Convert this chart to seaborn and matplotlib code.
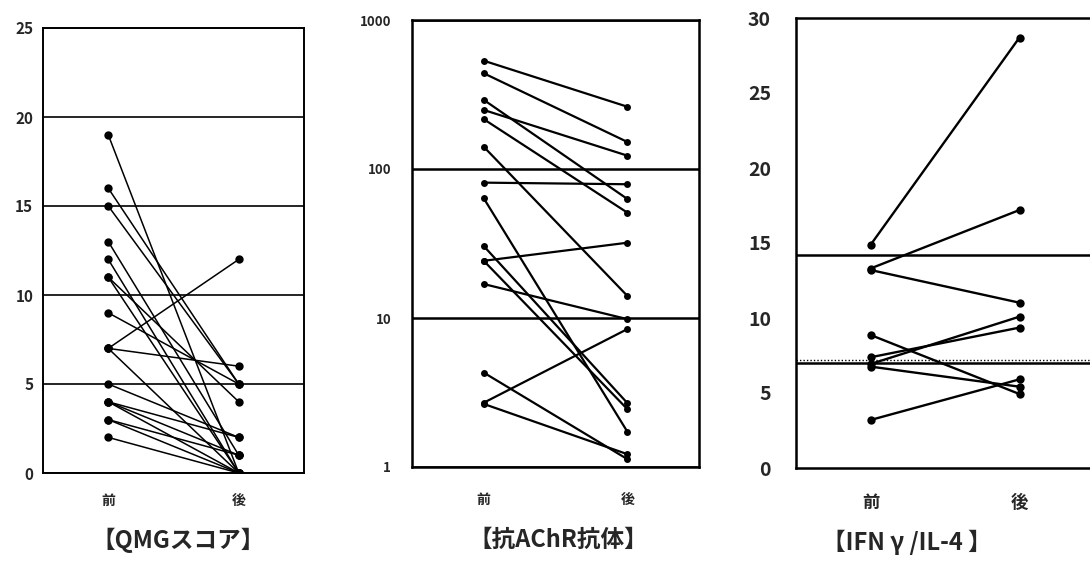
import matplotlib
matplotlib.use("Agg")
import matplotlib.pyplot as plt
import seaborn as sns
import pandas as pd
import numpy as np

# ---------------- data ----------------
phase_labels = ["前", "後"]

qmg_pre = [19, 16, 15, 13, 12, 11, 11, 9, 7, 7, 7, 5, 4, 4, 4, 3, 3, 2]
qmg_post = [0, 5, 5, 1, 0, 4, 0, 5, 12, 6, 0, 2, 2, 1, 0, 1, 0, 0]

achr_pre = [533, 439, 291, 249, 216, 141, 81, 63.6, 30.4, 24.2, 24.2, 16.9, 4.3, 2.7, 2.65]
achr_post = [262, 152, 63, 123, 51, 14.1, 79, 1.73, 2.69, 32, 2.45, 9.83, 1.13, 8.42, 1.22]

ifn_pre = [14.87, 13.3, 13.2, 8.87, 7.38, 6.93, 6.76, 3.2]
ifn_post = [28.7, 17.2, 11.02, 4.93, 9.36, 10.09, 5.42, 5.91]

titles = ["【QMGスコア】", "【抗AChR抗体】", "【IFN γ /IL-4 】"]

qmg_ticks = [0, 5, 10, 15, 20, 25]
achr_ticks = [1, 10, 100, 1000]
ifn_ticks = [0, 5, 10, 15, 20, 25, 30]
ifn_ref_lines = [14.2, 7.0]
ifn_dotted = [7.2]


def long_df(pre, post):
    rows = []
    for i, (a, b) in enumerate(zip(pre, post)):
        rows.append({"id": i, "x": 0, "v": a})
        rows.append({"id": i, "x": 1, "v": b})
    return pd.DataFrame(rows)


sns.set_style("white")
plt.rcParams["font.family"] = ["Noto Sans CJK JP", "DejaVu Sans"]
plt.rcParams["font.weight"] = "bold"

W, H = 1090, 563
fig = plt.figure(figsize=(W / 100, H / 100), dpi=100)


def ax_px(x0, x1, ytop, ybot):
    return fig.add_axes([x0 / W, 1 - ybot / H, (x1 - x0) / W, (ybot - ytop) / H])


ax1 = ax_px(43, 304, 28, 473)
ax2 = ax_px(412, 699, 20, 467)
ax3 = ax_px(796, 1094, 18, 468)

# ---------- panel 1 ----------
sns.lineplot(data=long_df(qmg_pre, qmg_post), x="x", y="v", units="id", estimator=None,
             color="black", marker="o", markersize=6, markeredgecolor="black",
             markeredgewidth=0, linewidth=1.1, ax=ax1, legend=False)
ax1.set_ylim(0, 25)
ax1.set_yticks(qmg_ticks)
ax1.set_yticklabels([str(t) for t in qmg_ticks], fontsize=11, fontweight="bold")
ax1.yaxis.grid(True, color="black", linewidth=1.2)
ax1.tick_params(axis="y", length=0, pad=7)

# ---------- panel 2 ----------
sns.lineplot(data=long_df(achr_pre, achr_post), x="x", y="v", units="id", estimator=None,
             color="black", marker="o", markersize=5, markeredgecolor="black",
             markeredgewidth=0, linewidth=1.6, ax=ax2, legend=False)
ax2.set_yscale("log")
ax2.set_ylim(1, 1000)
ax2.set_yticks(achr_ticks)
ax2.set_yticklabels([str(t) for t in achr_ticks], fontsize=9.5, fontweight="bold")
ax2.yaxis.set_minor_locator(matplotlib.ticker.NullLocator())
ax2.yaxis.grid(True, color="black", linewidth=1.8)
ax2.tick_params(axis="y", length=3, width=1, direction="out", pad=12)

# ---------- panel 3 ----------
sns.lineplot(data=long_df(ifn_pre, ifn_post), x="x", y="v", units="id", estimator=None,
             color="black", marker="o", markersize=6, markeredgecolor="black",
             markeredgewidth=0, linewidth=1.7, ax=ax3, legend=False)
ax3.set_ylim(0, 30)
ax3.set_yticks(ifn_ticks)
ax3.set_yticklabels([str(t) for t in ifn_ticks], fontsize=14, fontweight="bold")
ax3.tick_params(axis="y", length=5, width=1.2, direction="in", pad=18)
for yv in ifn_ref_lines:
    ax3.axhline(yv, color="black", linewidth=1.8)
for yv in ifn_dotted:
    ax3.axhline(yv, color="black", linewidth=1.0, linestyle=(0, (1, 1.5)))
ax3.spines["right"].set_visible(False)

# ---------- common ----------
xfont = [10, 10, 12.5]
xpads = [15, 19, 19]
spw = [1.4, 1.8, 1.8]
for ax, fs, pad, lw in zip([ax1, ax2, ax3], xfont, xpads, spw):
    ax.set_xlim(-0.5, 1.5)
    ax.set_xticks([0, 1])
    ax.set_xticklabels(phase_labels, fontsize=fs, fontweight="bold")
    ax.set_xticks([0.5], minor=True)
    ax.tick_params(axis="x", which="major", length=0, pad=pad)
    ax.tick_params(axis="x", which="minor", length=7, width=1.5, direction="in")
    ax.set_xlabel("")
    ax.set_ylabel("")
    for s in ax.spines.values():
        s.set_color("black")
        s.set_linewidth(lw)
    ax.set_axisbelow(True)

title_pos = [(178, 540), (558, 540), (907, 542)]
for t, (px, py) in zip(titles, title_pos):
    fig.text(px / W, 1 - py / H, t, ha="center", va="center", fontsize=17,
             fontweight="bold")

fig.savefig("out.png", dpi=100)
